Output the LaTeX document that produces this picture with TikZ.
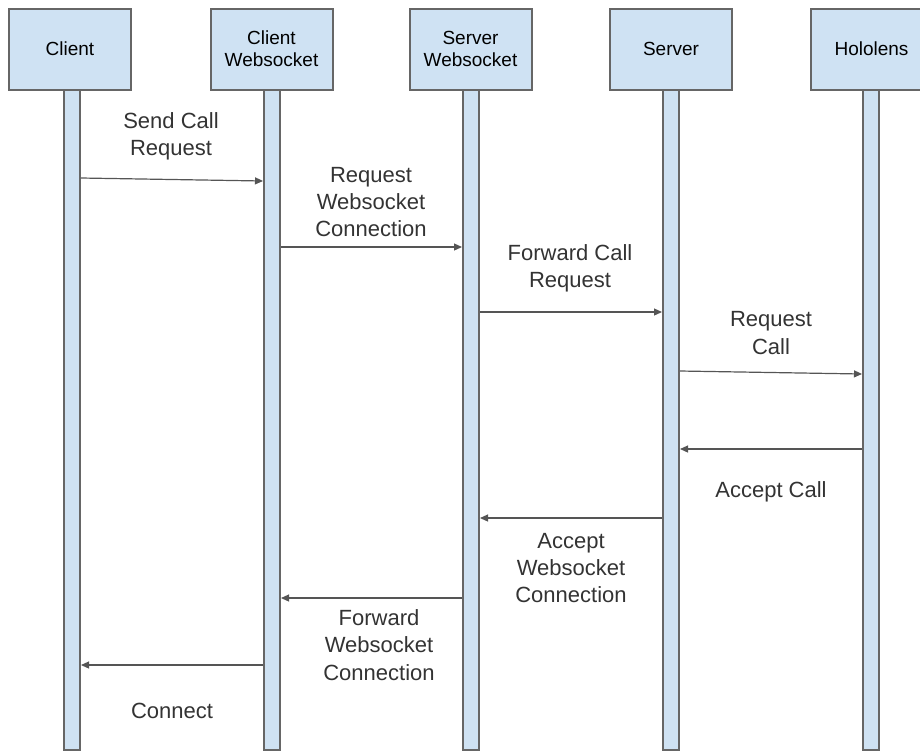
\documentclass[tikz,border=0pt]{standalone}
\usepackage{fontspec}
\setmainfont{Liberation Sans}
\usetikzlibrary{arrows.meta}
\definecolor{boxfill}{HTML}{CFE2F3}
\definecolor{boxline}{HTML}{666666}
\definecolor{msgline}{HTML}{555555}
\tikzset{
  actor/.style={draw=boxline, line width=1pt, fill=boxfill, minimum width=61pt,
    minimum height=40.5pt, align=center, inner sep=0pt,
    font=\fontsize{9.5}{11}\selectfont},
  lifeline/.style={draw=boxline, line width=1pt, fill=boxfill, minimum width=8pt,
    minimum height=330pt, anchor=north, inner sep=0pt},
  msg/.style={draw=msgline, line width=0.6pt, -{Triangle[length=4pt,width=3.5pt]}},
  lbl/.style={align=center, text=black!80, font=\fontsize{11}{13.6}\selectfont, inner sep=0pt}
}
\begin{document}
\begin{tikzpicture}[x=0.5pt, y=-0.5pt]
\useasboundingbox (0,0) rectangle (920,751);
\clip (0,0) rectangle (920,751);

% lifelines
\node[lifeline] (b1) at (72,89) {};
\node[lifeline] (b2) at (272,89) {};
\node[lifeline] (b3) at (471,89) {};
\node[lifeline] (b4) at (671,89) {};
\node[lifeline] (b5) at (871,89) {};

% participants
\node[actor] (a1) at (70,49) {Client};
\node[actor] (a2) at (271.5,49) {Client\\Websocket};
\node[actor] (a3) at (470.5,49) {Server\\Websocket};
\node[actor] (a4) at (671,49) {Server};
\node[actor] (a5) at (871.5,49) {Hololens};

% messages
\draw[msg] (b1.east |- 0,178) -- (b2.west |- 0,181);
\draw[msg] (b2.east |- 0,247) -- (b3.west |- 0,247);
\draw[msg] (b3.east |- 0,312) -- (b4.west |- 0,312);
\draw[msg] (b4.east |- 0,371) -- (b5.west |- 0,374);
\draw[msg] (b5.west |- 0,449) -- (b4.east |- 0,449);
\draw[msg] (b4.west |- 0,518) -- (b3.east |- 0,518);
\draw[msg] (b3.west |- 0,598) -- (b2.east |- 0,598);
\draw[msg] (b2.west |- 0,665) -- (b1.east |- 0,665);

% labels
\node[lbl] (l1) at (171,136) {Send Call\\Request};
\node[lbl] (l2) at (371,202) {Request\\Websocket\\Connection};
\node[lbl] (l3) at (570,268) {Forward Call\\Request};
\node[lbl] (l4) at (771,333) {Request\\Call};
\node[lbl] (l5) at (771,492) {Accept Call};
\node[lbl] (l6) at (571,568) {Accept\\Websocket\\Connection};
\node[lbl] (l7) at (379,645) {Forward\\Websocket\\Connection};
\node[lbl] (l8) at (172,711) {Connect};
\end{tikzpicture}
\end{document}
